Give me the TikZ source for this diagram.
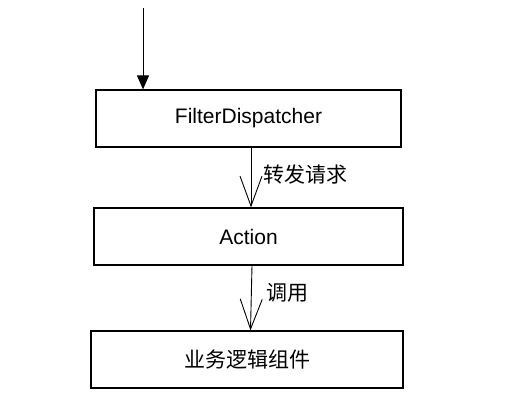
\documentclass[tikz,border=0pt]{standalone}
\usepackage{fontspec}
\setmainfont{Liberation Sans}
\newfontfamily\cjk{Noto Sans CJK SC}
\usetikzlibrary{arrows.meta}

\begin{document}
\begin{tikzpicture}[x=1pt, y=-1pt,
    stagebox/.style={draw, line width=1.2pt, minimum height=57pt, inner sep=0pt,
      font=\fontsize{21}{25}\selectfont},
    flowlabel/.style={anchor=west, inner sep=0pt, font=\cjk\fontsize{21}{25}\selectfont},
    callarrow/.style={line width=0.9pt, -{Straight Barb[length=30pt, width=22pt, line width=0.9pt]}}]
  \useasboundingbox (0,0) rectangle (523,414);
  % the three stages
  \node[stagebox, minimum width=305pt] (dispatcher) at (248.5,118.5) {FilterDispatcher};
  \node[stagebox, minimum width=309pt] (action) at (248.5,236.5) {Action};
  \node[stagebox, minimum width=312pt] (logic) at (247,359.5) {\cjk 业务逻辑组件};
  % incoming request
  \coordinate (entry) at (143,8);
  \draw[line width=0.9pt, -{Triangle[length=14pt, width=12pt]}] (entry) -- (entry |- dispatcher.north);
  \draw[callarrow] ([xshift=2.5pt]dispatcher.south) -- ([xshift=2.5pt]action.north);
  \draw[callarrow] ([xshift=3.5pt]action.south) -- ([xshift=3.5pt]logic.north);
  \node[flowlabel] (forward) at (263,175) {转发请求};
  \node[flowlabel] (invoke) at (266,293) {调用};
\end{tikzpicture}
\end{document}
